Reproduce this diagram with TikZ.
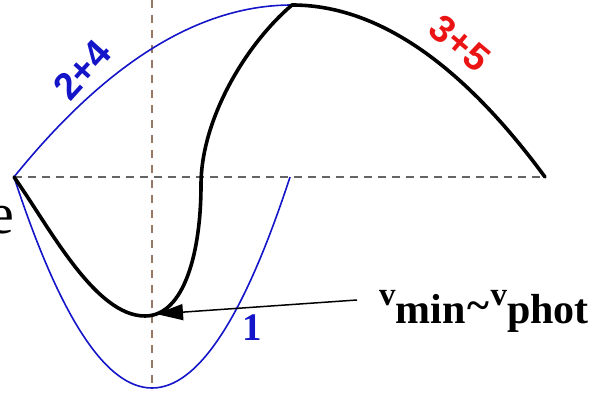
\documentclass[tikz,border=0pt]{standalone}
\usepackage{fontspec}
\setmainfont{Liberation Serif}
\newfontfamily\labsans{Liberation Sans}
\usetikzlibrary{arrows.meta}
\definecolor{cblue}{RGB}{20,20,200}
\definecolor{cred}{RGB}{235,20,20}
\definecolor{cgray}{RGB}{100,100,100}
\definecolor{cbrown}{RGB}{150,120,100}
\tikzset{
  thickcurve/.style={line width=3.6pt, black, line cap=round, line join=round},
  bluecurve/.style={line width=1.6pt, cblue},
  hdash/.style={line width=1.4pt, cgray, dash pattern=on 8pt off 6pt},
  vdash/.style={line width=1.2pt, cbrown, dash pattern=on 8pt off 7pt},
  arrowline/.style={line width=1.5pt, black, -{Triangle[length=27pt,width=16pt]}},
  sanslab/.style={font=\labsans\bfseries\fontsize{38}{38}\selectfont, inner sep=0pt},
}
\begin{document}
\begin{tikzpicture}[x=1pt,y=-1pt]
\useasboundingbox (0,0) rectangle (595,396);
% key points
\coordinate (L) at (14,177);
\coordinate (T) at (292,5);
\coordinate (R) at (545,177);
\coordinate (B) at (152,388);
\coordinate (P1R) at (290,177);
\coordinate (M) at (145,316);
\coordinate (S) at (201,185);
\coordinate (Vtop) at (152,0);
\coordinate (Vbot) at (152,390);
\coordinate (tail) at (357,300);
\coordinate (tip) at (156,314);
% dashed axes
\draw[hdash] (L) -- (R);
\draw[vdash] (Vtop) -- (Vbot);
% blue curves
\draw[bluecurve] (L) .. controls (106.7,62.3) and (199.3,5) .. (T);
\draw[bluecurve] (T) .. controls (376.3,5) and (460.7,62.3) .. (R);
\draw[bluecurve] (L) .. controls (60,317.7) and (106,388) .. (B)
                     .. controls (198,388) and (244,317.7) .. (P1R);
% black curves
\draw[thickcurve] (L) .. controls (50,228) and (95,316) .. (M)
                     .. controls (185,316) and (201,250) .. (S)
                     .. controls (201,120) and (245,45) .. (T)
                     .. controls (376.3,5) and (460.7,62.3) .. (R);
% arrow
\draw[arrowline] (tail) -- (tip);
% labels
\node[sanslab, text=cblue, rotate=48] (l24) at (82,70) {2+4};
\node[sanslab, text=cred, rotate=-40] (l35) at (460,43) {3+5};
\node[inner sep=0pt, text=cblue, font=\bfseries\fontsize{39}{39}\selectfont] (l1) at (252,328) {1};
\node[inner sep=0pt, anchor=base east, font=\fontsize{58}{58}\selectfont] (e) at (14,233) {e};
\node[inner sep=0pt, anchor=base west, font=\bfseries\fontsize{42}{42}\selectfont] (vtext) at (379,323)
  {\raisebox{18pt}{\fontsize{33}{33}\selectfont v}min\kern2pt\raisebox{4pt}{\string~}\kern1pt\raisebox{18pt}{\fontsize{33}{33}\selectfont v}phot};
\end{tikzpicture}
\end{document}
